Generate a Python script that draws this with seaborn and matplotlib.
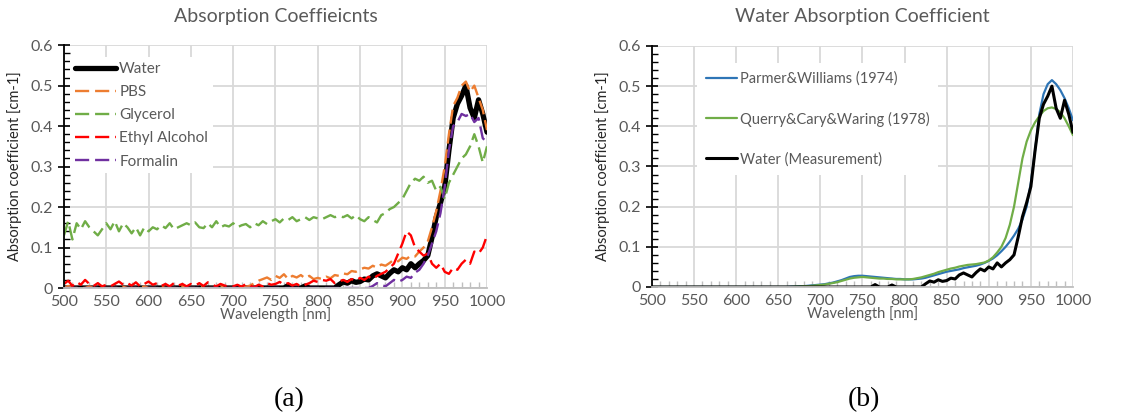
import numpy as np
import seaborn as sns
import matplotlib.pyplot as plt
from matplotlib.ticker import MultipleLocator, FuncFormatter

# wavelength grid, 5 nm steps
wavelength = np.arange(500, 1001, 5)

# ---- (a) measured absorption coefficients [cm-1] ----
water = [
    0, 0, 0, 0, 0, 0, 0, 0, 0, 0,
    0, 0, 0, 0, 0, 0, 0, 0, 0, 0,
    0, 0, 0, 0, 0, 0, 0, 0, 0, 0,
    0, 0, 0, 0, 0, 0, 0, 0, 0, 0,
    0, 0, 0, 0, 0, 0, 0, 0, 0, 0,
    0, 0, 0, 0.006, 0, 0, 0, 0.005, 0, 0,
    0, 0, 0, 0, 0, 0.008, 0.015, 0.012, 0.018, 0.014,
    0.016, 0.022, 0.02, 0.03, 0.035, 0.03, 0.025, 0.036, 0.045, 0.04,
    0.05, 0.045, 0.06, 0.05, 0.06, 0.068, 0.08, 0.125, 0.175, 0.21,
    0.25, 0.34, 0.42, 0.455, 0.475, 0.5, 0.445, 0.42, 0.465, 0.43,
    0.385,
]
pbs = [
    0, 0.005, 0, 0, 0, 0, 0.004, 0, 0, 0,
    0, 0, 0, 0, 0.003, 0, 0, 0, 0, 0.004,
    0, 0, 0, 0.003, 0, 0, 0, 0, 0.004, 0,
    0, 0, 0.003, 0, 0, 0, 0, 0.004, 0, 0,
    0, 0, 0.004, 0.003, 0.006, 0.012, 0.018, 0.022, 0.026, 0.02,
    0.03, 0.025, 0.034, 0.022, 0.03, 0.026, 0.032, 0.024, 0.03, 0.022,
    0.025, 0.022, 0.028, 0.024, 0.032, 0.03, 0.036, 0.034, 0.042, 0.04,
    0.046, 0.05, 0.048, 0.055, 0.05, 0.058, 0.055, 0.062, 0.07, 0.066,
    0.075, 0.072, 0.08, 0.078, 0.09, 0.1, 0.115, 0.15, 0.19, 0.24,
    0.3, 0.38, 0.45, 0.47, 0.5, 0.51, 0.485, 0.5, 0.47, 0.44,
    0.39,
]
glycerol = [
    0.13, 0.165, 0.12, 0.16, 0.145, 0.165, 0.15, 0.14, 0.13, 0.145,
    0.16, 0.145, 0.165, 0.14, 0.16, 0.15, 0.135, 0.15, 0.13, 0.15,
    0.14, 0.15, 0.145, 0.155, 0.148, 0.16, 0.145, 0.15, 0.155, 0.16,
    0.155, 0.162, 0.15, 0.148, 0.16, 0.15, 0.165, 0.15, 0.155, 0.152,
    0.16, 0.15, 0.155, 0.158, 0.15, 0.16, 0.155, 0.165, 0.158, 0.165,
    0.17, 0.162, 0.172, 0.168, 0.175, 0.165, 0.17, 0.175, 0.168, 0.175,
    0.172, 0.17, 0.175, 0.18, 0.175, 0.178, 0.175, 0.18, 0.172, 0.18,
    0.17, 0.165, 0.175, 0.168, 0.162, 0.18, 0.185, 0.195, 0.2, 0.21,
    0.22, 0.24, 0.26, 0.27, 0.265, 0.275, 0.26, 0.265, 0.24, 0.25,
    0.22, 0.26, 0.28, 0.3, 0.32, 0.33, 0.35, 0.38, 0.35, 0.31,
    0.35,
]
ethyl_alcohol = [
    0.01, 0.018, 0.005, 0.015, 0.008, 0.02, 0.01, 0.005, 0.012, 0.004,
    0.008, 0.004, 0.01, 0.016, 0.008, 0.012, 0.006, 0.014, 0.004, 0.01,
    0.016, 0.008, 0.012, 0.005, 0.01, 0.004, 0.012, 0.006, 0.01, 0.004,
    0.01, 0.006, 0.012, 0.005, 0.014, 0.008, 0.004, 0.01, 0.006, 0.003,
    0.004, 0.008, 0.003, 0.01, 0.006, 0.002, 0.008, 0.004, 0.012, 0.008,
    0.01, 0.015, 0.008, 0.012, 0.006, 0.01, 0.004, 0.008, 0.012, 0.018,
    0.015, 0.02, 0.018, 0.022, 0.012, 0.016, 0.02, 0.015, 0.022, 0.018,
    0.025, 0.02, 0.028, 0.022, 0.03, 0.035, 0.04, 0.05, 0.06, 0.085,
    0.11, 0.14, 0.13, 0.1, 0.09, 0.08, 0.085, 0.06, 0.05, 0.06,
    0.04, 0.035, 0.05, 0.045, 0.06, 0.07, 0.06, 0.09, 0.085, 0.1,
    0.13,
]
formalin = [
    0, 0, 0, 0, 0, 0, 0, 0, 0, 0,
    0, 0, 0, 0, 0, 0, 0, 0, 0, 0,
    0, 0, 0, 0, 0, 0, 0, 0, 0, 0,
    0, 0, 0, 0, 0, 0, 0, 0, 0, 0,
    0, 0, 0, 0, 0, 0, 0, 0, 0, 0,
    0, 0, 0, 0, 0, 0, 0, 0, 0, 0,
    0, 0, 0, 0, 0, 0, 0, 0, 0, 0,
    0, 0, 0, 0.005, 0.012, 0.008, 0.004, 0.012, 0.02, 0.015,
    0.02, 0.028, 0.025, 0.038, 0.045, 0.06, 0.08, 0.11, 0.14, 0.185,
    0.25, 0.34, 0.4, 0.41, 0.43, 0.425, 0.43, 0.41, 0.42, 0.37,
    0.36,
]

# ---- (b) literature water absorption [cm-1] ----
parmer_williams = [
    0, 0, 0, 0, 0, 0, 0, 0, 0, 0,
    0, 0, 0, 0, 0, 0, 0, 0, 0, 0,
    0, 0, 0, 0, 0, 0, 0, 0, 0, 0,
    0, 0, 0, 0.001, 0.001, 0.002, 0.002, 0.003, 0.004, 0.005,
    0.006, 0.007, 0.009, 0.011, 0.014, 0.017, 0.021, 0.025, 0.027, 0.028,
    0.028, 0.027, 0.026, 0.025, 0.024, 0.023, 0.022, 0.021, 0.02, 0.02,
    0.019, 0.019, 0.019, 0.02, 0.021, 0.023, 0.026, 0.029, 0.032, 0.035,
    0.038, 0.04, 0.042, 0.044, 0.047, 0.049, 0.051, 0.053, 0.056, 0.06,
    0.065, 0.071, 0.079, 0.089, 0.1, 0.113, 0.128, 0.145, 0.168, 0.2,
    0.26, 0.34, 0.43, 0.48, 0.505, 0.515, 0.505, 0.49, 0.47, 0.445,
    0.415,
]
querry_cary_waring = [
    0, 0, 0, 0, 0, 0, 0, 0, 0, 0,
    0, 0, 0, 0, 0, 0, 0, 0, 0, 0,
    0, 0, 0, 0, 0, 0, 0, 0, 0, 0,
    0, 0, 0, 0, 0.001, 0.001, 0.002, 0.002, 0.003, 0.004,
    0.005, 0.006, 0.008, 0.01, 0.012, 0.015, 0.018, 0.021, 0.023, 0.024,
    0.025, 0.024, 0.023, 0.022, 0.021, 0.021, 0.02, 0.02, 0.019, 0.019,
    0.019, 0.019, 0.02, 0.022, 0.024, 0.027, 0.03, 0.033, 0.037, 0.04,
    0.043, 0.046, 0.048, 0.051, 0.053, 0.055, 0.056, 0.057, 0.059, 0.061,
    0.066, 0.074, 0.086, 0.1, 0.122, 0.155, 0.2, 0.26, 0.32, 0.362,
    0.39, 0.41, 0.425, 0.438, 0.445, 0.447, 0.443, 0.435, 0.42, 0.4,
    0.378,
]

sns.set_theme(style="whitegrid")
plt.rcParams['font.family'] = ['Lato', 'DejaVu Sans']

TXT = '#595959'
GRID = '#d9d9d9'
dash = (0, (6, 2.5))


def style_axes(ax, title):
    ax.set_xlim(500, 1000)
    ax.set_ylim(0, 0.6)
    ax.xaxis.set_major_locator(MultipleLocator(50))
    ax.xaxis.set_minor_locator(MultipleLocator(10))
    ax.yaxis.set_major_locator(MultipleLocator(0.1))
    ax.yaxis.set_minor_locator(MultipleLocator(0.02))
    ax.yaxis.set_major_formatter(FuncFormatter(lambda v, p: '0' if abs(v) < 1e-9 else f'{v:.1f}'))
    ax.grid(True, which='major', color=GRID, lw=1.3)
    ax.grid(False, which='minor')
    ax.set_facecolor('white')
    for s in ['top', 'right']:
        ax.spines[s].set_visible(False)
    ax.spines['left'].set_color('black')
    ax.spines['left'].set_linewidth(1.3)
    ax.spines['bottom'].set_color('#bfbfbf')
    ax.spines['bottom'].set_linewidth(1.3)
    ax.tick_params(axis='y', which='major', left=True, direction='inout', length=8,
                   width=1.2, color='black', labelsize=11.5, labelcolor=TXT, pad=4)
    ax.tick_params(axis='y', which='minor', left=True, direction='in', length=4,
                   width=1, color='black')
    ax.tick_params(axis='x', which='major', bottom=False, length=0, labelsize=11.5,
                   labelcolor=TXT, pad=5)
    ax.tick_params(axis='x', which='minor', bottom=True, direction='in', length=4,
                   width=1, color='#bfbfbf')
    ax.set_title(title, fontsize=14, color=TXT, pad=17)
    ax.set_xlabel('Wavelength [nm]', fontsize=10.5, color=TXT, labelpad=-1)
    ax.set_ylabel('Absorption coefficient [cm-1]', fontsize=10.5, color='#262626', labelpad=6)


fig = plt.figure(figsize=(11.4, 4.18), dpi=100)
ax1 = fig.add_axes([0.0561, 0.311, 0.3711, 0.581])
ax2 = fig.add_axes([0.5719, 0.3134, 0.3693, 0.5766])

# (a)
sns.lineplot(x=wavelength, y=water, ax=ax1, color='black', lw=3.8, label='Water')
sns.lineplot(x=wavelength, y=pbs, ax=ax1, color='#ED7D31', lw=1.7, linestyle=dash, label='PBS')
sns.lineplot(x=wavelength, y=glycerol, ax=ax1, color='#70AD47', lw=1.7, linestyle=dash, label='Glycerol')
sns.lineplot(x=wavelength, y=ethyl_alcohol, ax=ax1, color='#FF0000', lw=1.7, linestyle=dash, label='Ethyl Alcohol')
sns.lineplot(x=wavelength, y=formalin, ax=ax1, color='#7030A0', lw=1.7, linestyle=dash, label='Formalin')
style_axes(ax1, 'Absorption Coeffieicnts')
leg1 = ax1.legend(loc='upper left', bbox_to_anchor=(0.015, 0.95), frameon=True, fancybox=False,
                  facecolor='white', edgecolor='none', framealpha=1, fontsize=11,
                  handlelength=2.7, handletextpad=0.2, labelspacing=0.6, borderpad=0.3,
                  borderaxespad=0)
for t in leg1.get_texts():
    t.set_color(TXT)

# (b)
sns.lineplot(x=wavelength, y=parmer_williams, ax=ax2, color='#2E75B6', lw=1.6, label='Parmer&Williams (1974)')
sns.lineplot(x=wavelength, y=querry_cary_waring, ax=ax2, color='#70AD47', lw=1.6, label='Querry&Cary&Waring (1978)')
sns.lineplot(x=wavelength, y=water, ax=ax2, color='black', lw=2.2, label='Water (Measurement)')
style_axes(ax2, 'Water Absorption Coefficient')
leg2 = ax2.legend(loc='upper left', bbox_to_anchor=(0.108, 0.93), frameon=True, fancybox=False,
                  facecolor='white', edgecolor='none', framealpha=1, fontsize=10.5,
                  handlelength=2.1, handletextpad=0.2, labelspacing=1.75, borderpad=0.6,
                  borderaxespad=0)
for t in leg2.get_texts():
    t.set_color(TXT)

fig.text(0.254, 0.043, '(a)', family='Liberation Serif', fontsize=20, ha='center', va='center', color='black')
fig.text(0.758, 0.043, '(b)', family='Liberation Serif', fontsize=20, ha='center', va='center', color='black')

fig.savefig('out.png', dpi=100, facecolor='white')
